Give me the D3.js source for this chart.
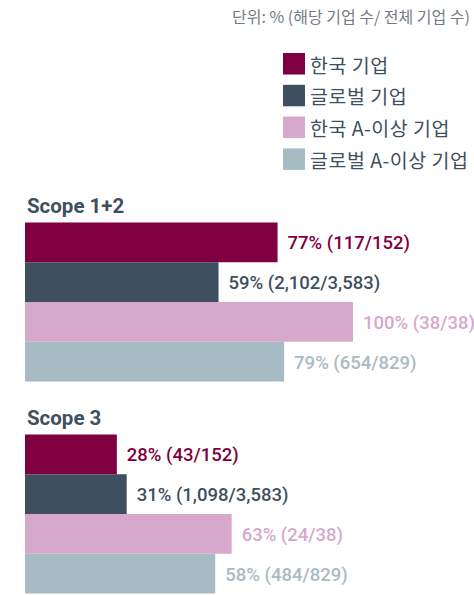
<!DOCTYPE html>
<html>
<head>
<meta charset="utf-8">
<script src="https://cdn.jsdelivr.net/npm/d3@7"></script>
<style>
  body { margin: 0; background: #fff; }
  svg { display: block; }
</style>
</head>
<body>
<div id="chart"></div>
<script>
var scopes = ["Scope 1+2", "Scope 3"];
var series = ["한국 기업", "글로벌 기업", "한국 A-이상 기업", "글로벌 A-이상 기업"];
var colors = ["#7f0040", "#3e4f5f", "#d6a9cc", "#a7bcc2"];

var scope12Pct = [77, 59, 100, 79];
var scope12Count = ["117/152", "2,102/3,583", "38/38", "654/829"];
var scope3Pct = [28, 31, 63, 58];
var scope3Count = ["43/152", "1,098/3,583", "24/38", "484/829"];

var unitNote = "단위: % (해당 기업 수/ 전체 기업 수)";

var width = 474, height = 595;
var korFont = "'Noto Sans CJK KR', 'Noto Sans', sans-serif";
var numFont = "Roboto, 'Noto Sans', sans-serif";
var textColor = "#3e4f5f";

var groups = [
  { name: scopes[0], pct: scope12Pct, count: scope12Count },
  { name: scopes[1], pct: scope3Pct, count: scope3Count }
];

var svg = d3.select("#chart").append("svg")
  .attr("width", width)
  .attr("height", height);

var x = d3.scaleLinear().domain([0, 100]).range([25, 353]);

var groupY = d3.scaleBand()
  .domain(scopes)
  .range([222.5, 593.5])
  .paddingInner(0.25)
  .paddingOuter(0);

var barY = d3.scaleBand()
  .domain(series)
  .range([0, groupY.bandwidth()])
  .padding(0);

var color = d3.scaleOrdinal().domain(series).range(colors);

// unit note
svg.append("text")
  .attr("x", 470)
  .attr("y", 23)
  .attr("text-anchor", "end")
  .attr("font-family", korFont)
  .attr("font-size", 16)
  .attr("fill", "#737c86")
  .text(unitNote);

// legend
var legend = svg.selectAll(".legend")
  .data(series)
  .enter()
  .append("g")
  .attr("class", "legend")
  .attr("transform", function(d, i) { return "translate(283," + (53 + i * 31.8) + ")"; });

legend.append("rect")
  .attr("width", 22)
  .attr("height", 21.5)
  .attr("fill", function(d) { return color(d); });

legend.append("text")
  .attr("x", 27)
  .attr("y", 11)
  .attr("dominant-baseline", "central")
  .attr("font-family", korFont)
  .attr("font-size", 19.5)
  .attr("letter-spacing", 0.5)
  .attr("fill", textColor)
  .text(function(d) { return d; });

// bar groups
var group = svg.selectAll(".scope")
  .data(groups)
  .enter()
  .append("g")
  .attr("class", "scope")
  .attr("transform", function(d) { return "translate(0," + groupY(d.name) + ")"; });

group.append("text")
  .attr("x", 27)
  .attr("y", -10)
  .attr("font-family", numFont)
  .attr("font-weight", "bold")
  .attr("font-size", 20.5)
  .attr("fill", textColor)
  .text(function(d) { return d.name; });

var rows = group.selectAll(".row")
  .data(function(d) {
    return series.map(function(s, i) {
      return { series: s, pct: d.pct[i], count: d.count[i] };
    });
  })
  .enter()
  .append("g")
  .attr("class", "row");

rows.append("rect")
  .attr("x", x(0))
  .attr("y", function(d) { return barY(d.series); })
  .attr("width", function(d) { return x(d.pct) - x(0); })
  .attr("height", barY.bandwidth())
  .attr("fill", function(d) { return color(d.series); });

rows.append("text")
  .attr("x", function(d) { return x(d.pct) + 10; })
  .attr("y", function(d) { return barY(d.series) + barY.bandwidth() / 2 + 1; })
  .attr("dominant-baseline", "central")
  .attr("font-family", numFont)
  .attr("font-weight", 500)
  .attr("font-size", 18.5)
  .attr("fill", function(d) { return color(d.series); })
  .text(function(d) { return d.pct + "% (" + d.count + ")"; });
</script>
</body>
</html>
